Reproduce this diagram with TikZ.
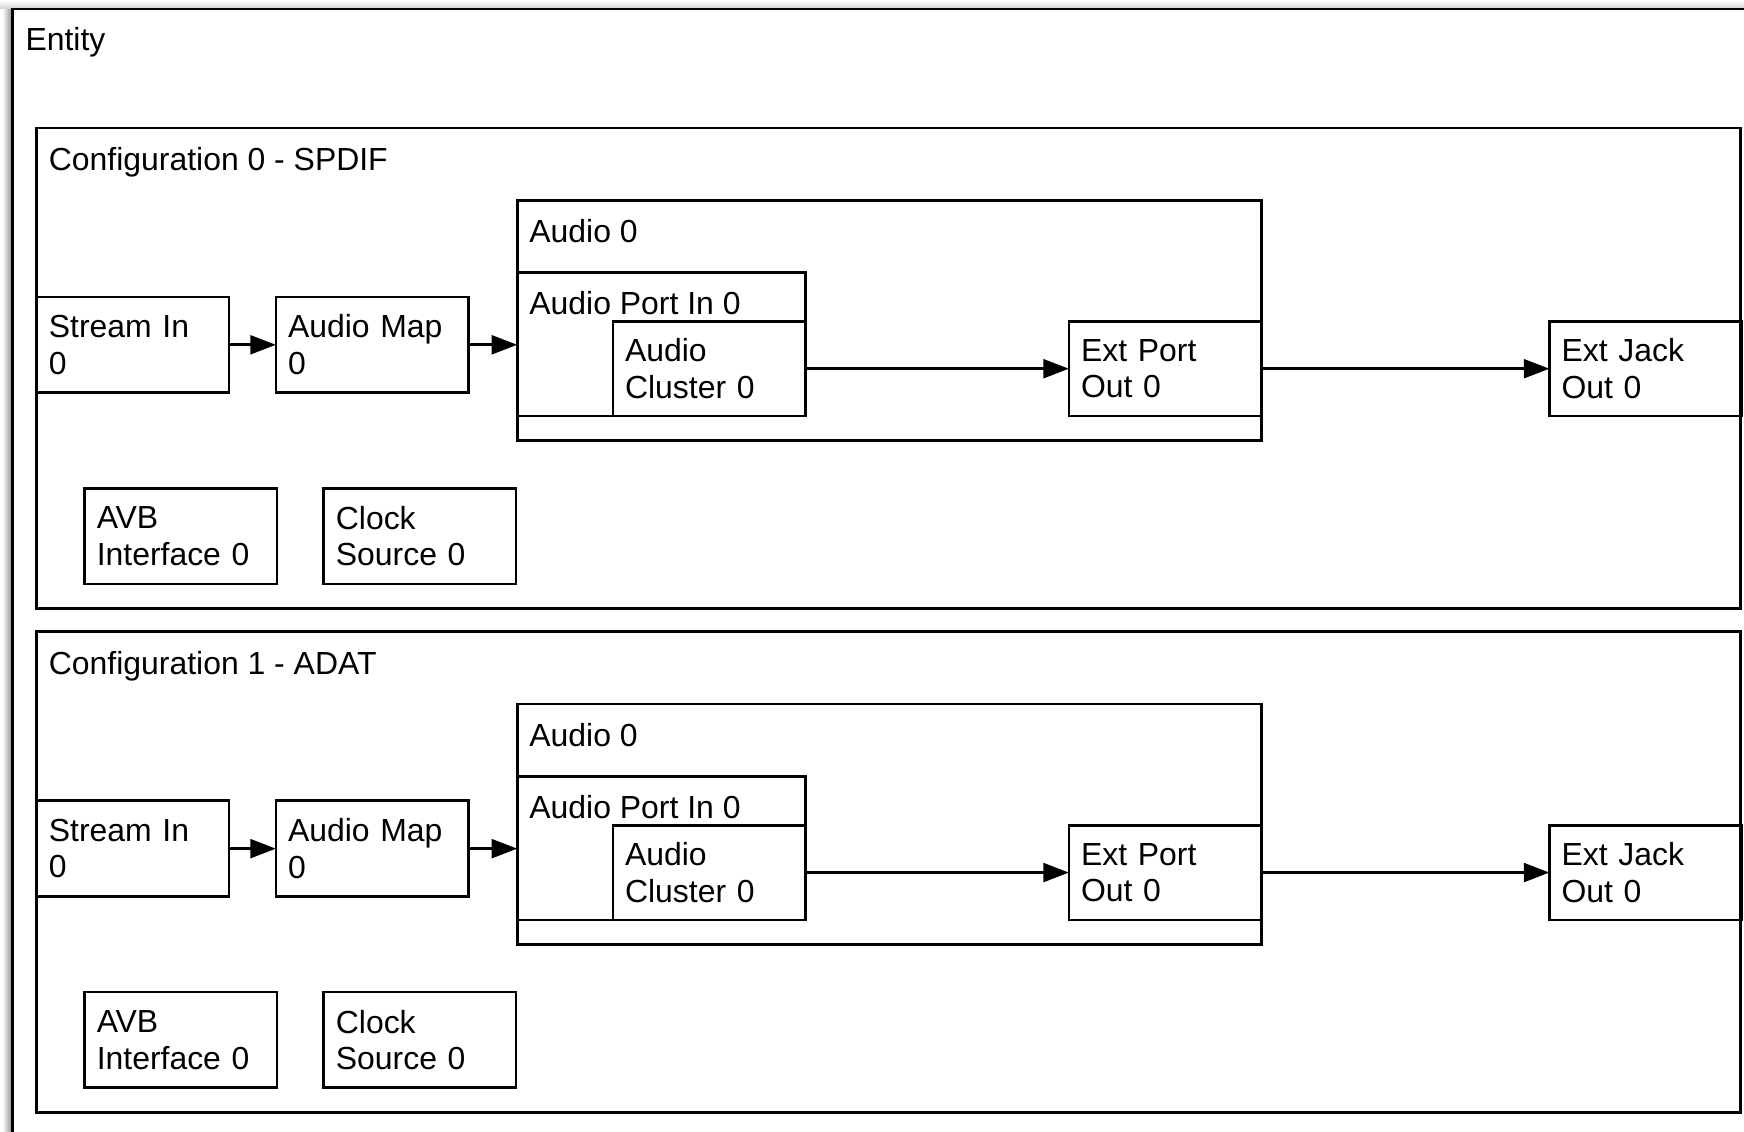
\documentclass[tikz,border=0pt]{standalone}
\usepackage{fontspec}
\setmainfont{Liberation Sans}
\usetikzlibrary{arrows.meta}
\begin{document}
\begin{tikzpicture}[x=1pt,y=-1pt, line width=2.4pt,
  every node/.style={font=\fontsize{28.7}{33}\selectfont, outer sep=0pt},
  frame/.style={draw, line width=2.4pt, anchor=north west, inner sep=0pt},
  blk/.style={draw, line width=2.4pt, anchor=north west, inner xsep=11pt, inner ysep=0pt,
              align=left, text width=151pt, minimum height=86pt},
  ttl/.style={anchor=base west, inner sep=0pt},
  arr/.style={-{Triangle[length=23pt,width=17pt]}, line width=2.4pt}]
\useasboundingbox (0,0) rectangle (1568,1017);
\clip (0,0) rectangle (1568,1017);
% window shadow
\shade[left color=white, right color=black!45] (2,0) rectangle (11,1017);
\shade[top color=white, bottom color=black!18] (0,0) rectangle (1568,8);
% entity
\node[frame, fill=white, minimum width=1600pt, minimum height=1060pt] (entity) at (11,8) {};
\node[ttl] (entityt) at (23,45.5) {Entity};
\foreach \cfg/\lab in {0/SPDIF,1/ADAT}{
\begin{scope}[shift={(0,453*\cfg)}]
  \node[frame, minimum width=1532pt, minimum height=432pt] (cfg\cfg) at (33,115) {};
  \node[ttl] (cfgt\cfg) at (44,153) {Configuration \cfg{} - \lab};
  % audio unit
  \node[frame, minimum width=669pt, minimum height=216pt] (aud\cfg) at (465,180) {};
  \node[ttl] (audt\cfg) at (476,218) {Audio 0};
  \node[frame, minimum width=259pt, minimum height=129pt] (api\cfg) at (465,245) {};
  \node[ttl] (apit\cfg) at (476,282.5) {Audio Port In 0};
  \node[blk, minimum height=85pt] (clu\cfg) at (551,289) {Audio\\Cluster 0};
  \node[blk, minimum height=85pt] (epo\cfg) at (961,289) {Ext Port\\Out 0};
  \node[blk, minimum height=85pt] (ej\cfg) at (1393,289) {Ext Jack\\Out 0};
  % stream / map
  \node[blk] (si\cfg) at (33,267) {Stream In\\0};
  \node[blk] (map\cfg) at (248,267) {Audio Map\\0};
  % others
  \node[blk] (avb\cfg) at (76,439) {AVB\\Interface 0};
  \node[blk] (clk\cfg) at (291,439) {Clock\\Source 0};
  % connectors
  \draw[arr] (si\cfg.east) -- (map\cfg.west);
  \draw[arr] (map\cfg.east) -- (map\cfg.east -| aud\cfg.west);
  \draw[arr] (clu\cfg.east) -- (epo\cfg.west);
  \draw[arr] (epo\cfg.east) -- (ej\cfg.west);
\end{scope}}
\end{tikzpicture}
\end{document}
